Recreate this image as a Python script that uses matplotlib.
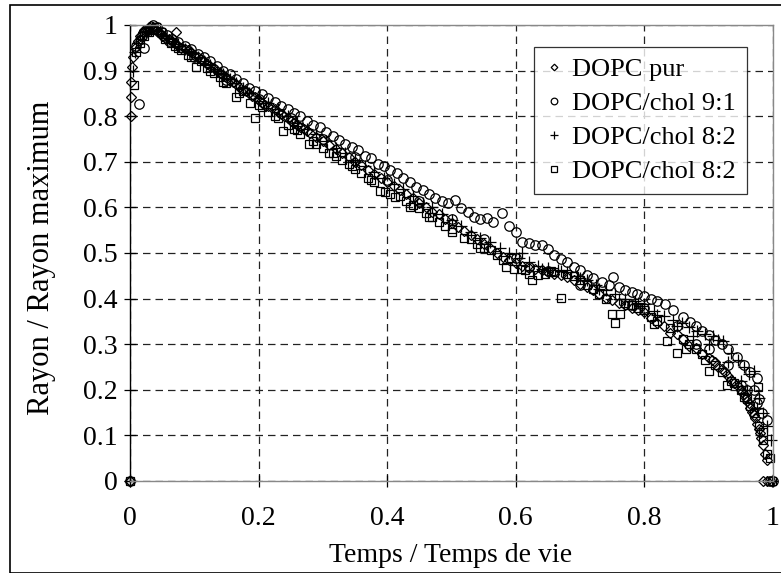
import matplotlib
matplotlib.use("Agg")
import matplotlib.pyplot as plt
from matplotlib.patches import Rectangle

plt.rcParams['font.family'] = ['Liberation Serif', 'DejaVu Serif']

# DOPC pur (losanges)
pur_x = [0.0, 0.002, 0.002, 0.002, 0.003, 0.005, 0.008, 0.012, 0.016, 0.02, 0.025, 0.03, 0.035, 0.04,
         0.045, 0.05, 0.06, 0.072, 0.07, 0.08, 0.09, 0.10, 0.11, 0.12, 0.13, 0.14, 0.15, 0.16, 0.17,
         0.18, 0.19, 0.20, 0.21, 0.22, 0.23, 0.24, 0.25, 0.26, 0.27, 0.28, 0.29, 0.30, 0.31, 0.32,
         0.33, 0.34, 0.35, 0.36, 0.37, 0.38, 0.39, 0.40, 0.41, 0.42, 0.43, 0.44, 0.45, 0.46, 0.47,
         0.48, 0.49, 0.50, 0.51, 0.52, 0.53, 0.54, 0.55, 0.56, 0.57, 0.58, 0.59, 0.60, 0.61, 0.62,
         0.63, 0.64, 0.65, 0.66, 0.67, 0.68, 0.69, 0.70, 0.71, 0.72, 0.73, 0.74, 0.75, 0.76, 0.77,
         0.78, 0.79, 0.80, 0.81, 0.82, 0.83, 0.84, 0.85, 0.86, 0.87, 0.88, 0.89, 0.90, 0.91, 0.92,
         0.93, 0.94, 0.95, 0.955, 0.96, 0.965, 0.97, 0.975, 0.98, 0.985, 0.988, 0.99, 0.985, 0.99,
         0.015, 0.022, 0.028, 0.033, 0.038, 0.043, 0.048, 0.055, 0.065, 0.075, 0.085, 0.095, 0.105,
         0.115, 0.125, 0.135, 0.145, 0.155, 0.165, 0.175, 0.185, 0.195, 0.205, 0.215, 0.225, 0.235,
         0.245, 0.255, 0.265, 0.275, 0.905, 0.915, 0.925, 0.935, 0.945, 0.952, 0.958, 0.962, 0.968,
         0.972, 0.978, 0.982]
pur_y = [0.0, 0.80, 0.842, 0.875, 0.908, 0.93, 0.95, 0.965, 0.975, 0.985, 0.99, 0.995, 0.995, 0.99,
         0.985, 0.975, 0.97, 0.985, 0.96, 0.95, 0.945, 0.935, 0.925, 0.915, 0.905, 0.895, 0.885,
         0.875, 0.865, 0.855, 0.845, 0.835, 0.825, 0.82, 0.81, 0.80, 0.79, 0.78, 0.772, 0.763, 0.755,
         0.745, 0.737, 0.728, 0.72, 0.71, 0.70, 0.692, 0.683, 0.674, 0.665, 0.655, 0.648, 0.638,
         0.63, 0.62, 0.61, 0.60, 0.59, 0.585, 0.575, 0.565, 0.556, 0.548, 0.54, 0.53, 0.52, 0.51,
         0.50, 0.492, 0.485, 0.478, 0.472, 0.468, 0.465, 0.462, 0.458, 0.455, 0.452, 0.447, 0.44,
         0.432, 0.425, 0.418, 0.41, 0.402, 0.396, 0.39, 0.385, 0.38, 0.375, 0.37, 0.358, 0.346,
         0.34, 0.325, 0.322, 0.312, 0.297, 0.292, 0.279, 0.27, 0.26, 0.245, 0.23, 0.215, 0.20,
         0.19, 0.175, 0.16, 0.145, 0.125, 0.105, 0.08, 0.06, 0.045, 0.0, 0.0,
         0.97, 0.988, 0.99, 0.997, 0.992, 0.985, 0.98, 0.972, 0.965, 0.955, 0.948, 0.94, 0.93,
         0.92, 0.91, 0.90, 0.89, 0.878, 0.87, 0.858, 0.85, 0.842, 0.83, 0.822, 0.815, 0.805,
         0.795, 0.785, 0.776, 0.768, 0.265, 0.25, 0.238, 0.222, 0.208, 0.195, 0.182, 0.17, 0.152,
         0.138, 0.115, 0.095]

# DOPC/chol 9:1 (cercles)
c91_x = [0.0, 0.014, 0.022, 0.01, 0.018, 0.028, 0.035, 0.042, 0.05, 0.058, 0.066, 0.075, 0.085,
         0.095, 0.105, 0.115, 0.125, 0.135, 0.145, 0.155, 0.165, 0.175, 0.185, 0.195, 0.205, 0.215,
         0.225, 0.235, 0.245, 0.255, 0.265, 0.275, 0.285, 0.295, 0.305, 0.315, 0.325, 0.335, 0.345,
         0.355, 0.365, 0.375, 0.385, 0.395, 0.405, 0.415, 0.425, 0.435, 0.445, 0.455, 0.465, 0.475,
         0.485, 0.495, 0.505, 0.515, 0.525, 0.535, 0.545, 0.555, 0.565, 0.578, 0.59, 0.60, 0.61,
         0.62, 0.63, 0.64, 0.65, 0.66, 0.67, 0.68, 0.69, 0.70, 0.71, 0.72, 0.734, 0.751, 0.745,
         0.76, 0.77, 0.78, 0.789, 0.80, 0.81, 0.82, 0.832, 0.845, 0.86, 0.871, 0.88, 0.89, 0.90,
         0.91, 0.92, 0.93, 0.944, 0.955, 0.965, 0.975, 0.97, 0.978, 0.983, 0.99, 0.62, 0.70, 0.78,
         0.88, 0.95, 0.995, 1.0,
         0.06, 0.10, 0.15, 0.20, 0.25, 0.30, 0.35, 0.40, 0.45, 0.50, 0.55, 0.60, 0.65, 0.72, 0.80,
         0.85, 0.90, 0.93, 0.96, 0.975]
c91_y = [0.0, 0.826, 0.95, 0.955, 0.975, 0.99, 1.0, 0.995, 0.985, 0.978, 0.97, 0.962, 0.955,
         0.947, 0.937, 0.93, 0.92, 0.91, 0.90, 0.892, 0.882, 0.872, 0.862, 0.855, 0.848, 0.84,
         0.832, 0.822, 0.815, 0.808, 0.80, 0.79, 0.78, 0.776, 0.765, 0.757, 0.748, 0.74, 0.732,
         0.725, 0.712, 0.708, 0.695, 0.69, 0.682, 0.675, 0.665, 0.655, 0.645, 0.638, 0.63, 0.62,
         0.615, 0.61, 0.616, 0.598, 0.59, 0.58, 0.575, 0.577, 0.568, 0.588, 0.56, 0.546, 0.524,
         0.522, 0.518, 0.518, 0.509, 0.495, 0.487, 0.48, 0.469, 0.462, 0.452, 0.445, 0.436, 0.447,
         0.43, 0.425, 0.419, 0.415, 0.41, 0.405, 0.40, 0.395, 0.388, 0.375, 0.36, 0.349, 0.34,
         0.33, 0.32, 0.31, 0.30, 0.29, 0.272, 0.255, 0.24, 0.226, 0.20, 0.18, 0.149, 0.134, 0.47,
         0.43, 0.385, 0.30, 0.21, 0.0, 0.0,
         0.965, 0.93, 0.88, 0.838, 0.795, 0.75, 0.71, 0.66, 0.615, 0.575, 0.53, 0.49, 0.46, 0.42,
         0.38, 0.34, 0.29, 0.255, 0.20, 0.17]

# DOPC/chol 8:2 (croix)
c82_x = [0.0, 0.004, 0.008, 0.012, 0.018, 0.025, 0.032, 0.04, 0.048, 0.056, 0.065, 0.075, 0.085,
         0.095, 0.105, 0.115, 0.125, 0.135, 0.145, 0.155, 0.165, 0.175, 0.185, 0.20, 0.215, 0.23,
         0.245, 0.26, 0.275, 0.29, 0.305, 0.32, 0.335, 0.35, 0.365, 0.38, 0.395, 0.41, 0.425, 0.44,
         0.455, 0.47, 0.485, 0.50, 0.515, 0.53, 0.545, 0.56, 0.575, 0.59, 0.605, 0.62, 0.635, 0.65,
         0.665, 0.68, 0.695, 0.71, 0.725, 0.74, 0.755, 0.77, 0.785, 0.80, 0.815, 0.83, 0.845, 0.858,
         0.87, 0.882, 0.895, 0.906, 0.915, 0.923, 0.934, 0.945, 0.955, 0.962, 0.97, 0.978, 0.985,
         0.99, 0.997, 0.998,
         0.61, 0.64, 0.67, 0.70, 0.73, 0.76, 0.79, 0.82, 0.85, 0.875, 0.90, 0.93, 0.95, 0.96, 0.975]
c82_y = [0.0, 0.90, 0.94, 0.96, 0.975, 0.985, 0.99, 0.99, 0.98, 0.972, 0.965, 0.958, 0.948, 0.94,
         0.93, 0.922, 0.912, 0.90, 0.892, 0.882, 0.872, 0.862, 0.85, 0.84, 0.83, 0.815, 0.80,
         0.785, 0.772, 0.76, 0.745, 0.73, 0.72, 0.705, 0.69, 0.678, 0.665, 0.652, 0.64, 0.625,
         0.61, 0.60, 0.585, 0.572, 0.56, 0.545, 0.532, 0.525, 0.512, 0.50, 0.49, 0.48, 0.472,
         0.468, 0.462, 0.458, 0.45, 0.44, 0.43, 0.418, 0.41, 0.40, 0.395, 0.388, 0.372, 0.362,
         0.352, 0.347, 0.338, 0.33, 0.322, 0.319, 0.31, 0.308, 0.281, 0.265, 0.25, 0.235, 0.242,
         0.182, 0.15, 0.12, 0.09, 0.0,
         0.50, 0.465, 0.46, 0.445, 0.42, 0.40, 0.39, 0.365, 0.34, 0.318, 0.30, 0.26, 0.22, 0.20, 0.16]

# DOPC/chol 8:2 (carres)
c82b_x = [0.0, 0.006, 0.01, 0.015, 0.022, 0.03, 0.04, 0.048, 0.055, 0.063, 0.07, 0.08, 0.09, 0.103,
          0.11, 0.12, 0.13, 0.14, 0.15, 0.165, 0.175, 0.186, 0.194, 0.205, 0.215, 0.225, 0.238,
          0.245, 0.255, 0.265, 0.279, 0.29, 0.30, 0.31, 0.32, 0.33, 0.34, 0.35, 0.36, 0.37, 0.38,
          0.389, 0.397, 0.412, 0.42, 0.43, 0.44, 0.45, 0.46, 0.47, 0.48, 0.49, 0.50, 0.519, 0.53,
          0.54, 0.55, 0.561, 0.57, 0.58, 0.592, 0.597, 0.608, 0.615, 0.625, 0.635, 0.645, 0.655,
          0.671, 0.68, 0.69, 0.70, 0.71, 0.72, 0.73, 0.749, 0.755, 0.762, 0.77, 0.78, 0.79, 0.80,
          0.81, 0.82, 0.835, 0.84, 0.851, 0.86, 0.87, 0.88, 0.89, 0.901, 0.91, 0.92, 0.929, 0.94,
          0.95, 0.96, 0.97, 0.977, 0.978, 0.985, 0.985, 0.99, 0.995, 0.998,
          0.035, 0.075, 0.095, 0.125, 0.145, 0.17, 0.20, 0.23, 0.26, 0.285, 0.315, 0.345, 0.375,
          0.405, 0.435, 0.465, 0.50, 0.545, 0.585, 0.62, 0.66, 0.74, 0.775, 0.815, 0.865, 0.895,
          0.935, 0.955, 0.965]
c82b_y = [0.0, 0.868, 0.94, 0.96, 0.975, 0.985, 0.995, 0.985, 0.97, 0.96, 0.955, 0.945, 0.935,
          0.908, 0.92, 0.905, 0.895, 0.885, 0.872, 0.843, 0.855, 0.83, 0.797, 0.82, 0.81, 0.80,
          0.767, 0.78, 0.772, 0.762, 0.74, 0.74, 0.73, 0.72, 0.712, 0.705, 0.695, 0.685, 0.675,
          0.665, 0.655, 0.637, 0.633, 0.622, 0.625, 0.615, 0.605, 0.598, 0.588, 0.578, 0.568, 0.56,
          0.552, 0.532, 0.53, 0.52, 0.51, 0.506, 0.495, 0.485, 0.49, 0.466, 0.466, 0.462, 0.44,
          0.452, 0.455, 0.46, 0.402, 0.455, 0.45, 0.44, 0.43, 0.42, 0.41, 0.367, 0.347, 0.367,
          0.39, 0.385, 0.38, 0.375, 0.36, 0.35, 0.308, 0.335, 0.281, 0.312, 0.30, 0.29, 0.278,
          0.242, 0.255, 0.24, 0.211, 0.215, 0.20, 0.18, 0.15, 0.206, 0.12, 0.107, 0.09, 0.06,
          0.05, 0.0,
          0.99, 0.95, 0.93, 0.90, 0.875, 0.85, 0.825, 0.795, 0.77, 0.745, 0.72, 0.69, 0.66,
          0.63, 0.60, 0.58, 0.545, 0.51, 0.47, 0.455, 0.458, 0.40, 0.385, 0.345, 0.29, 0.265,
          0.22, 0.185, 0.165]

fig = plt.figure(figsize=(7.81, 5.73), dpi=100)
ax = fig.add_axes([130 / 781, 1 - 481 / 573, 643 / 781, 456 / 573])

mk = dict(linestyle='none', markerfacecolor='none', markeredgecolor='black', markeredgewidth=0.9)
ax.plot(pur_x, pur_y, marker='D', markersize=4.8, label='DOPC pur', **mk)
ax.plot(c91_x, c91_y, marker='o', markersize=6.8, label='DOPC/chol 9:1', **mk)
ax.plot(c82_x, c82_y, marker='+', markersize=8, label='DOPC/chol 8:2', **mk)
ax.plot(c82b_x, c82b_y, marker='s', markersize=5.8, label='DOPC/chol 8:2', **mk)

ax.set_xlim(0, 1)
ax.set_ylim(0, 1)
ax.set_xticks([0, 0.2, 0.4, 0.6, 0.8, 1])
ax.set_xticklabels(['0', '0.2', '0.4', '0.6', '0.8', '1'])
ax.set_yticks([i / 10 for i in range(11)])
ax.set_yticklabels(['0', '0.1', '0.2', '0.3', '0.4', '0.5', '0.6', '0.7', '0.8', '0.9', '1'])
ax.tick_params(axis='both', direction='inout', length=8, width=0.9, labelsize=20, colors='black')
ax.tick_params(axis='x', pad=14)
ax.tick_params(axis='y', pad=5)
ax.set_axisbelow(True)
ax.grid(True, color='#222222', linestyle=(0, (6, 4)), linewidth=0.9)

for s in ['top', 'right', 'bottom']:
    ax.spines[s].set_color('#888888')
    ax.spines[s].set_linewidth(1.0)
ax.spines['left'].set_color('black')
ax.spines['left'].set_linewidth(1.0)
for ln in ax.lines:
    ln.set_clip_on(False)

fig.text(42 / 781, 1 - 258 / 573, 'Rayon / Rayon maximum', rotation=90, fontsize=22,
         ha='center', va='center')
fig.text(451 / 781, 1 - 556 / 573, 'Temps / Temps de vie', fontsize=20, ha='center', va='center')

leg = ax.legend(loc='upper left', bbox_to_anchor=(534 / 781, 1 - 47 / 573),
                bbox_transform=fig.transFigure, borderaxespad=0, fontsize=19, frameon=True,
                fancybox=False, edgecolor='black', markerscale=0.7, handlelength=0.7,
                handletextpad=0.35, labelspacing=0.4, borderpad=0.4)
leg.get_frame().set_linewidth(0.9)

fig.patches.append(Rectangle((10 / 781, 0), 1, 1 - 5 / 573, transform=fig.transFigure,
                             fill=False, edgecolor='black', linewidth=1.2))

fig.savefig('out.png', dpi=100)
